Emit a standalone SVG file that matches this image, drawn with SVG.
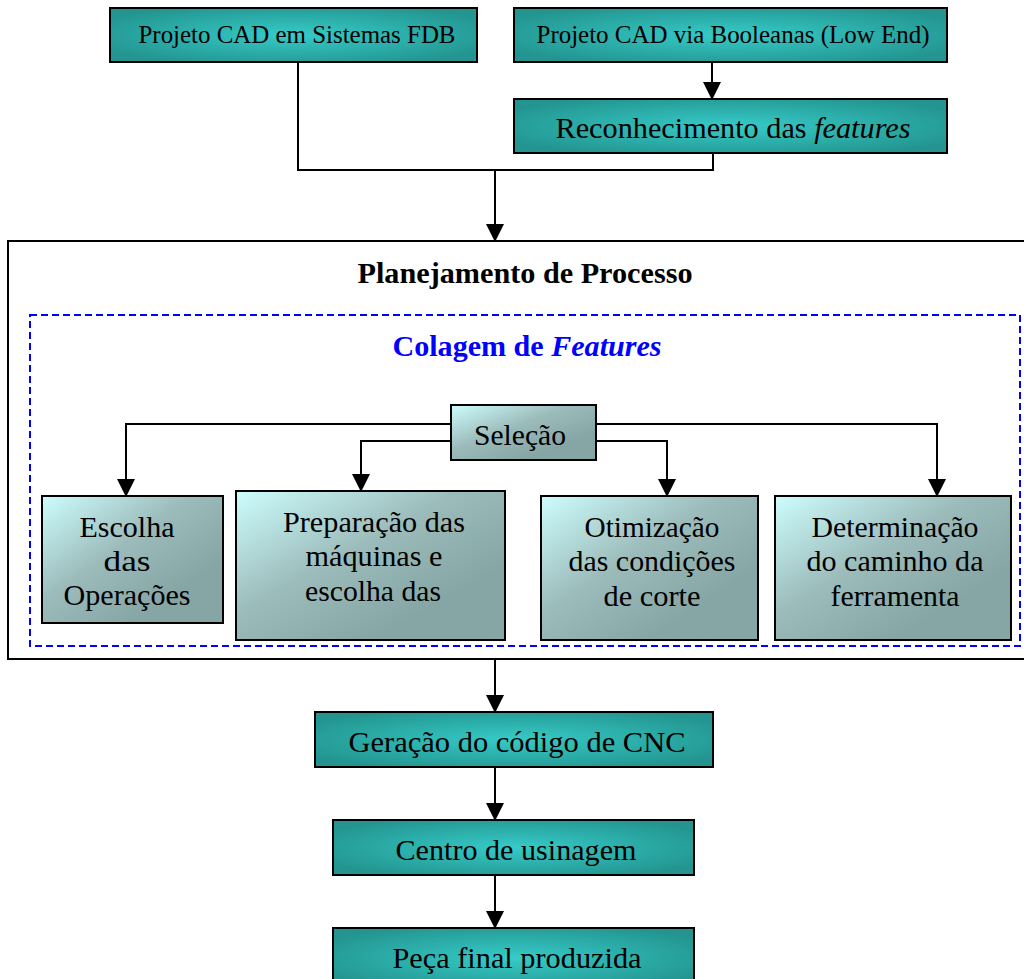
<svg xmlns="http://www.w3.org/2000/svg" width="1024" height="979" viewBox="0 0 1024 979" font-family="'Liberation Serif', 'Times New Roman', Times, serif">
<defs>
<radialGradient id="teal" cx="0.5" cy="0.5" r="0.6">
<stop offset="0" stop-color="#36cbc8"/>
<stop offset="1" stop-color="#23948f"/>
</radialGradient>
<linearGradient id="grey" x1="0" y1="0" x2="0.75" y2="0.75">
<stop offset="0" stop-color="#cdfdfd"/>
<stop offset="0.55" stop-color="#9cbcbb"/>
<stop offset="1" stop-color="#86a6a5"/>
</linearGradient>
<marker id="arr" markerWidth="18" markerHeight="18" refX="17" refY="9" orient="auto" markerUnits="userSpaceOnUse" viewBox="0 0 18 18">
<path d="M0,0 L18,9 L0,18 Z" fill="#000"/>
</marker>
</defs>
<style>
.t{fill:#000;text-anchor:middle}
.tb{stroke:#000;stroke-width:2;fill:url(#teal)}
.gb{stroke:#000;stroke-width:2;fill:url(#grey)}
.c{stroke:#000;stroke-width:2;fill:none}
.ca{stroke:#000;stroke-width:2;fill:none}
</style>
<rect width="1024" height="979" fill="#fff"/>

<g id="planejamento">
<rect x="8" y="241" width="1030" height="418" fill="#fff" stroke="#000" stroke-width="2"/>
<text class="t" x="525" y="283" font-size="30" font-weight="bold" textLength="335" lengthAdjust="spacingAndGlyphs">Planejamento de Processo</text>
</g>
<g id="colagem">
<rect x="30" y="315" width="990" height="331" fill="none" stroke="#0000ff" stroke-width="2" stroke-dasharray="7,4"/>
<text class="t" x="527" y="356" font-size="30" font-weight="bold" style="fill:#0000ff" textLength="269" lengthAdjust="spacingAndGlyphs">Colagem de <tspan font-style="italic">Features</tspan></text>
</g>

<g id="connectors">
<line class="ca" x1="712" y1="62" x2="712" y2="99" marker-end="url(#arr)"/>
<polyline class="c" points="298,62 298,170 713,170 713,153"/>
<line class="ca" x1="495" y1="170" x2="495" y2="241" marker-end="url(#arr)"/>
<polyline class="ca" points="451,424 126,424 126,496" marker-end="url(#arr)"/>
<polyline class="ca" points="451,441 361,441 361,491" marker-end="url(#arr)"/>
<polyline class="ca" points="596,441 667,441 667,496" marker-end="url(#arr)"/>
<polyline class="ca" points="596,424 937,424 937,496" marker-end="url(#arr)"/>
<line class="ca" x1="495" y1="659" x2="495" y2="712" marker-end="url(#arr)"/>
<line class="ca" x1="495" y1="767" x2="495" y2="820" marker-end="url(#arr)"/>
<line class="ca" x1="495" y1="875" x2="495" y2="928" marker-end="url(#arr)"/>
</g>

<g id="cad-fdb">
<rect class="tb" x="110" y="8" width="367" height="54"/>
<text class="t" x="297" y="43" font-size="25" textLength="317" lengthAdjust="spacingAndGlyphs">Projeto CAD em Sistemas FDB</text>
</g>
<g id="cad-booleanas">
<rect class="tb" x="514" y="8" width="433" height="54"/>
<text class="t" x="733" y="43" font-size="25" textLength="393" lengthAdjust="spacingAndGlyphs">Projeto CAD via Booleanas (Low End)</text>
</g>
<g id="reconhecimento">
<rect class="tb" x="514" y="99" width="433" height="54"/>
<text class="t" x="733" y="138" font-size="30" textLength="355" lengthAdjust="spacingAndGlyphs">Reconhecimento das <tspan font-style="italic">features</tspan></text>
</g>

<g id="selecao">
<rect class="gb" x="451" y="405" width="145" height="55"/>
<text class="t" x="520" y="445" font-size="30" textLength="92" lengthAdjust="spacingAndGlyphs">Seleção</text>
</g>
<g id="escolha">
<rect class="gb" x="42" y="496" width="181" height="127"/>
<text class="t" x="127" y="537" font-size="30" textLength="95" lengthAdjust="spacingAndGlyphs">Escolha</text>
<text class="t" x="127" y="571" font-size="30" textLength="47" lengthAdjust="spacingAndGlyphs">das</text>
<text class="t" x="127" y="605" font-size="30" textLength="127" lengthAdjust="spacingAndGlyphs">Operações</text>
</g>
<g id="preparacao">
<rect class="gb" x="236" y="491" width="269" height="149"/>
<text class="t" x="374" y="532" font-size="30" textLength="182" lengthAdjust="spacingAndGlyphs">Preparação das</text>
<text class="t" x="374" y="566" font-size="30" textLength="137" lengthAdjust="spacingAndGlyphs">máquinas e</text>
<text class="t" x="373" y="601" font-size="30" textLength="136" lengthAdjust="spacingAndGlyphs">escolha das</text>
</g>
<g id="otimizacao">
<rect class="gb" x="541" y="496" width="217" height="144"/>
<text class="t" x="652" y="537" font-size="30" textLength="135" lengthAdjust="spacingAndGlyphs">Otimização</text>
<text class="t" x="652" y="571" font-size="30" textLength="167" lengthAdjust="spacingAndGlyphs">das condições</text>
<text class="t" x="652" y="606" font-size="30" textLength="97" lengthAdjust="spacingAndGlyphs">de corte</text>
</g>
<g id="determinacao">
<rect class="gb" x="775" y="496" width="236" height="144"/>
<text class="t" x="895" y="537" font-size="30" textLength="167" lengthAdjust="spacingAndGlyphs">Determinação</text>
<text class="t" x="895" y="571" font-size="30" textLength="177" lengthAdjust="spacingAndGlyphs">do caminho da</text>
<text class="t" x="895" y="606" font-size="30" textLength="129" lengthAdjust="spacingAndGlyphs">ferramenta</text>
</g>

<g id="geracao">
<rect class="tb" x="315" y="712" width="398" height="55"/>
<text class="t" x="517" y="752" font-size="30" textLength="337" lengthAdjust="spacingAndGlyphs">Geração do código de CNC</text>
</g>
<g id="centro">
<rect class="tb" x="333" y="820" width="361" height="55"/>
<text class="t" x="516" y="860" font-size="30" textLength="241" lengthAdjust="spacingAndGlyphs">Centro de usinagem</text>
</g>
<g id="peca">
<rect class="tb" x="333" y="928" width="361" height="60"/>
<text class="t" x="517" y="968" font-size="30" textLength="249" lengthAdjust="spacingAndGlyphs">Peça final produzida</text>
</g>
</svg>
